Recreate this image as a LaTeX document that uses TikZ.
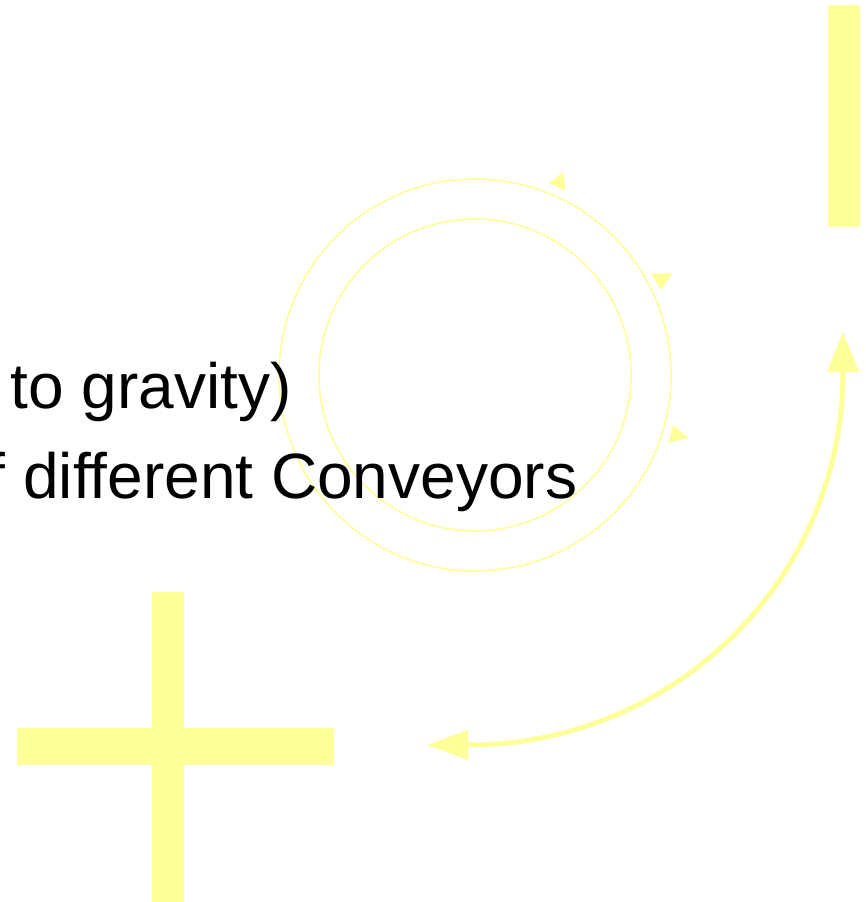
\documentclass[tikz,border=0pt]{standalone}
\usepackage{fontspec}
\setmainfont{Liberation Sans}[Ligatures=NoCommon]
\usetikzlibrary{arrows.meta}
\definecolor{lightyel}{HTML}{FFFF99}
\tikzset{
  bar/.style={fill=lightyel, draw=none},
  ring/.style={draw=lightyel, line width=1.6pt},
  tri/.style={fill=lightyel, draw=none},
  bigarrow/.style={draw=lightyel, line width=5pt,
    {Triangle[length=41pt,width=29pt]}-{Triangle[length=40pt,width=31pt]}},
  bigtext/.style={inner sep=0pt, font=\fontsize{64pt}{77pt}\selectfont, text=black}
}
\begin{document}
\begin{tikzpicture}[x=1pt,y=-1pt]
\clip (0,0) rectangle (865,902);
\fill[white] (0,0) rectangle (865,902);
% bars
\fill[bar] (828,5) rectangle (860,227);
\fill[bar] (152,592) rectangle (184,902);
\fill[bar] (17,728) rectangle (334,765);
% rings
\draw[ring] (475,375) circle[radius=196pt];
\draw[ring] (475,375) circle[radius=156pt];
% small triangles on ring
\fill[tri] (549.3,183.3) -- (563.3,171.7) -- (565.7,190.7) -- cycle;
\fill[tri] (651,273.3) -- (672.7,273.3) -- (661,290) -- cycle;
\fill[tri] (673.3,425) -- (688.3,438.3) -- (668.3,442.7) -- cycle;
% texts
\node[bigtext, anchor=base west] (t1) at (10.5,408) {to gravity)};
\node[bigtext, anchor=base west] (t2) at (-48,498) {of different Conveyors};
% big double arrow
\coordinate (tipL) at (427,745);
\coordinate (tipT) at (843,332);
\draw[bigarrow] (tipL) -- ++(41,0) .. controls +(207,0) and +(0,207) .. (843,372) -- (tipT);
\end{tikzpicture}
\end{document}
